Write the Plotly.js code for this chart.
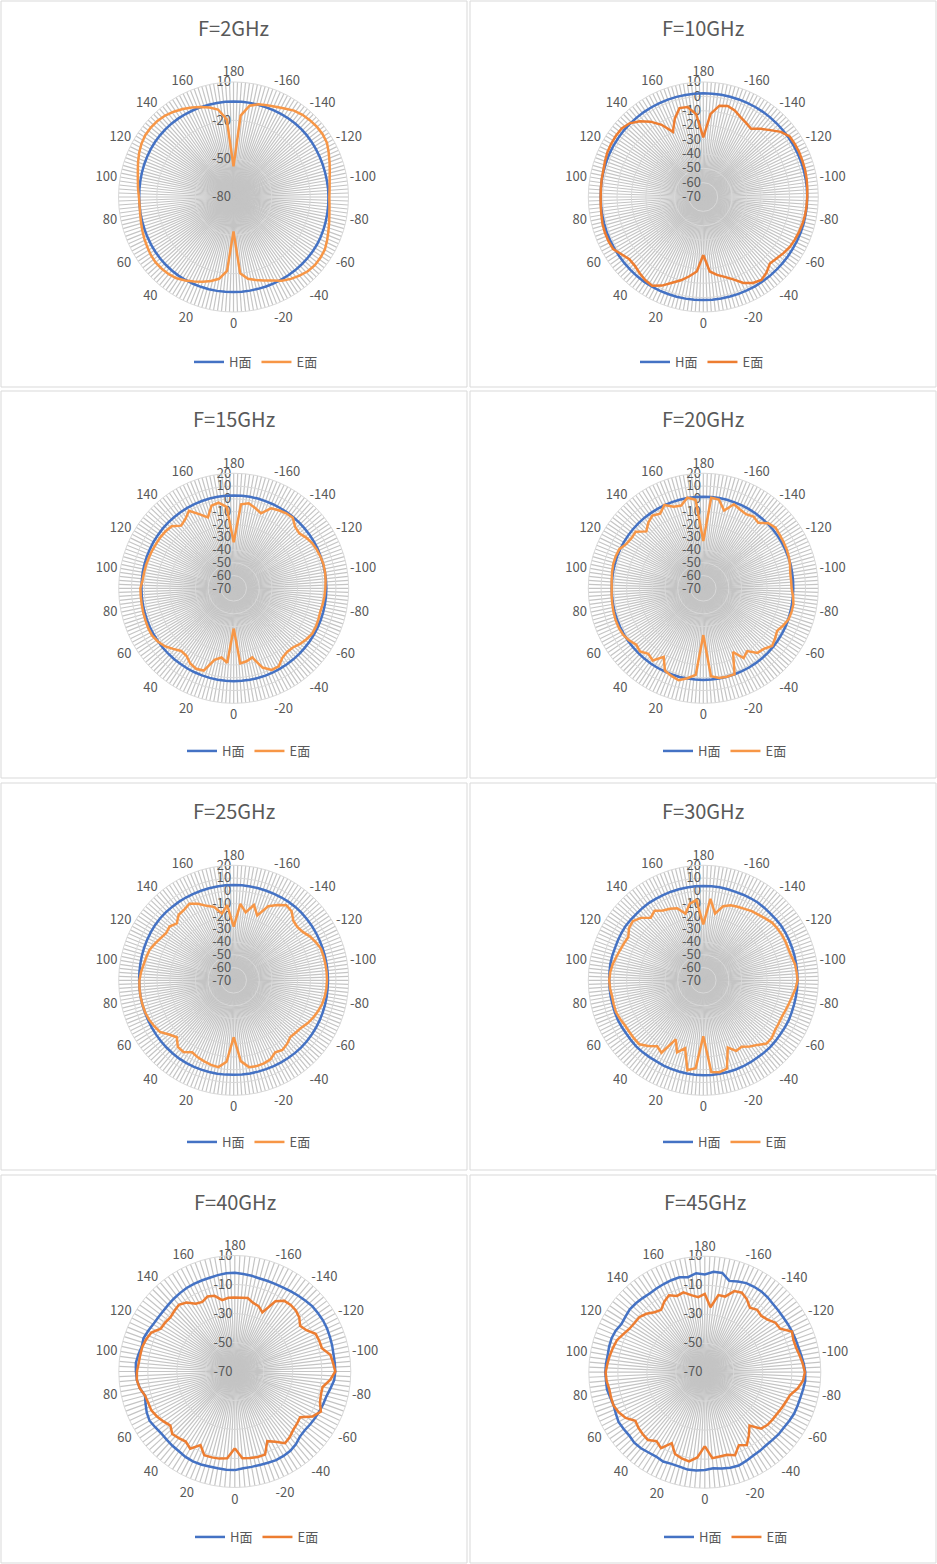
<!DOCTYPE html>
<html>
<head>
<meta charset="utf-8">
<script src="https://cdn.plot.ly/plotly-3.0.1.min.js"></script>
<style>
  body { margin: 0; background: #fff; }
  #chart { width: 937px; height: 1564px; }
</style>
</head>
<body>
<div id="chart"></div>
<script>
// measurement angles (deg): 0..180 down the left half, then -175..-5 back up the right
const angles = [0,5,10,15,20,25,30,35,40,45,50,55,60,65,70,75,80,85,90,95,100,105,110,115,120,125,130,135,140,145,150,155,160,165,170,175,180,
  -175,-170,-165,-160,-155,-150,-145,-140,-135,-130,-125,-120,-115,-110,-105,-100,-95,-90,-85,-80,-75,-70,-65,-60,-55,-50,-45,-40,-35,-30,-25,-20,-15,-10,-5];

const titles = ['F=2GHz','F=10GHz','F=15GHz','F=20GHz','F=25GHz','F=30GHz','F=40GHz','F=45GHz'];
const seriesNames = ['H面','E面'];

// category labels round the dial
const angleTickPos = [0,20,40,60,80,100,120,140,160,180,200,220,240,260,280,300,320,340];
const angleTickText = ['0','20','40','60','80','100','120','140','160','180','-160','-140','-120','-100','-80','-60','-40','-20'];

// radial tick labels per chart
const rTicks2 = [-80,-50,-20,10];
const rTicks10 = [-70,-60,-50,-40,-30,-20,-10,0,10];
const rTicksMid = [-70,-60,-50,-40,-30,-20,-10,0,10,20];
const rTicksHigh = [-70,-50,-30,-10,10];

// gain values (dB)
const h2 = [-5.6,-5.5,-5.4,-5.3,-5.2,-5.1,-5.0,-4.9,-4.9,-5.0,-5.1,-5.3,-5.5,-5.7,-5.9,-6.0,-6.1,-6.2,-6.2,-6.1,-6.0,-5.8,-5.6,-5.4,-5.2,-5.0,-4.9,-4.8,-4.8,-4.9,-5.0,-5.1,-5.2,-5.3,-5.3,-5.2,-5.2,
  -5.2,-5.2,-5.3,-5.3,-5.2,-5.1,-5.0,-4.9,-4.9,-5.0,-5.2,-5.4,-5.6,-5.7,-5.8,-5.8,-5.7,-5.7,-5.6,-5.5,-5.3,-5.1,-4.9,-4.8,-4.8,-4.9,-5.0,-5.1,-5.2,-5.3,-5.4,-5.5,-5.6,-5.6,-5.6];
const e2 = [-53,-22,-15,-12,-9.5,-7,-4.5,-2.3,-1.2,-0.6,-0.4,-1,-2,-3,-4,-5,-5.8,-6.2,-6,-5,-4,-2.5,-0.5,1.5,3.2,4.3,4.5,4.2,3.2,1.5,-0.5,-2.8,-5,-7.5,-10.5,-19,-56,
  -16,-7.5,-4.8,-3.5,-2,0,2.5,4,4.8,5.3,5.3,4.5,2.2,0,-2,-3.6,-4.5,-5,-4.6,-3.8,-2.5,-1,0.8,2.5,3,3.1,2.2,0.4,-1.8,-4.3,-7.8,-10.5,-12.8,-15,-20];

const h10 = [1.7,1.7,1.8,1.8,1.8,1.9,1.9,1.9,1.8,1.7,1.6,1.5,1.5,1.5,1.5,1.4,1.4,1.4,1.4,1.5,1.6,1.7,1.8,1.9,2.0,2.0,2.1,2.1,2.1,2.1,2.1,2.1,2.1,2.1,2.1,2.1,2.1,
  2.1,2.2,2.2,2.2,2.2,2.3,2.3,2.3,2.3,2.3,2.3,2.3,2.3,2.3,2.3,2.3,2.3,2.3,2.3,2.2,2.2,2.1,2.0,1.9,1.9,1.8,1.8,1.8,1.8,1.8,1.7,1.7,1.7,1.7,1.7];
const e10 = [-29.6,-18,-14,-10,-6.5,-2,1.2,0.5,-1,-2.5,-2.8,-0.5,2.4,2.8,2.8,2.6,2,1.6,1.4,1.5,1.8,2,2.8,3.6,4,4.2,4.1,2.5,-1.2,-6,-12,-20,-12,-6,-6.5,-12,-28.5,
  -12,-5.5,-4.5,-6,-8.7,-10.5,-12,-8,-4.2,0.5,3.4,3.6,3.6,3.4,3.3,3,2.6,2.3,2.1,1.9,1.5,0.9,0.3,-0.5,-1.9,-3.5,-4.5,-1.5,0.5,-1,-4,-9,-12.5,-15,-18];

const h15 = [2.7,2.7,2.6,2.6,2.5,2.5,2.5,2.4,2.4,2.4,2.4,2.3,2.3,2.3,2.2,2.2,2.2,2.2,2.2,2.2,2.3,2.3,2.4,2.4,2.5,2.5,2.6,2.6,2.6,2.6,2.7,2.7,2.7,2.7,2.7,2.7,2.7,
  2.7,2.7,2.7,2.6,2.6,2.6,2.6,2.6,2.6,2.6,2.6,2.6,2.6,2.5,2.5,2.5,2.5,2.5,2.5,2.5,2.5,2.5,2.5,2.5,2.5,2.5,2.6,2.6,2.6,2.6,2.7,2.7,2.7,2.7,2.7];
const e15 = [-38.6,-11.5,-15,-12,-1.5,-0.5,-2,-5.5,-6,-3,0.5,2.5,3.8,3.8,3.5,3.3,3.1,3,3,1.6,1.2,1,0.6,0.3,0,-0.1,-0.5,-1.4,-6,-4,0,-6,-11,-3,-2,-6,-33.9,
  -4,-2.4,-5,-7.5,-1,0.5,1.7,2,-2,-3,-0.8,0.9,1.7,2.3,2.7,2.6,2.2,1.7,1.3,0.8,0.2,0.6,1,1,-0.5,-2.2,-4.5,-5,-3.6,0.5,0.5,-4,-14,-12,-11];

const h20 = [1.7,1.7,1.7,1.8,1.8,1.8,1.8,1.8,1.8,1.8,1.8,1.8,1.8,1.8,1.8,1.8,1.7,1.7,1.7,1.7,1.8,1.8,1.9,1.9,1.9,1.9,1.9,1.9,1.9,1.8,1.8,1.8,1.8,1.7,1.7,1.7,1.7,
  1.7,1.7,1.7,1.6,1.6,1.5,1.5,1.4,1.4,1.3,1.2,1.1,1.0,0.9,0.8,0.6,0.5,0.4,0.4,0.5,0.6,0.8,1.0,1.1,1.2,1.3,1.4,1.5,1.5,1.6,1.6,1.6,1.7,1.7,1.7];
const e20 = [-33.5,-2,1.5,4.5,3,1,-8,-1,-3,0,-1.5,1,2.5,3,3,2.7,2.3,2,1.7,2,2.5,3,3,2.5,-0.5,-1.5,-1,-7,-3,-0.5,-2.5,2,-2,-3,2,-0.5,-33,
  1.2,0.5,-7,0,-2,-3,-1.5,-3,2,3.8,3,2.5,2,1.3,0.3,-0.9,-1,-0.9,0.5,1.6,1.5,1,-1,-3.3,-1.5,0.3,-3,-4,-10,-7,-15,1.5,1.6,1.2,-1];

const h25 = [4.0,4.1,4.2,4.3,4.4,4.5,4.6,4.6,4.5,4.4,4.3,4.1,4.0,3.9,3.9,4.0,4.0,4.0,4.0,4.1,4.2,4.4,4.6,4.8,5.0,5.2,5.3,5.2,5.0,4.9,4.8,4.7,4.6,4.6,4.6,4.6,4.6,
  4.6,4.6,4.6,4.6,4.7,4.8,4.9,5.0,4.9,4.7,4.5,4.3,4.1,4.0,3.9,3.8,3.8,3.8,3.8,3.9,4.0,4.1,4.2,4.3,4.4,4.5,4.5,4.4,4.3,4.2,4.1,4.0,4.0,4.0,4.0];
const e25 = [-25.5,-6,-1,-1.5,-2.5,-3.5,-5,-1.5,-2,-7,-4,0.5,1.8,3,3.7,3.9,4,4,3.8,2.8,1.5,0.8,0,-2,-4,-5.5,-4.5,-7,-3,-2.5,-0.8,-4,-8,-10.5,-17,-11,-28.1,
  -10,-16,-9,-16,-6,-2,1.8,0.5,-4,-5,-4,-1.2,0.8,2.6,2.8,2.9,3,3,2.8,2.4,1.7,0.3,-1.2,-3,-5.4,-6.5,-7.3,-5,-3.5,-5,-1.8,-0.8,-0.5,-1,-6.5];

const h30 = [4.3,4.2,4.0,3.9,3.8,3.6,3.3,3.4,3.6,3.8,3.5,3.3,3.5,3.7,3.6,3.5,3.6,3.6,3.6,3.7,3.9,3.8,3.6,3.8,4.0,4.2,4.0,3.8,3.9,4.0,3.8,3.7,3.8,3.8,3.7,3.8,3.8,
  3.8,3.9,3.8,3.7,3.9,4.1,4.3,4.2,4.0,4.2,4.4,4.3,4.1,4.0,3.9,3.8,3.8,3.8,3.7,3.6,3.5,3.6,3.8,3.7,3.6,3.8,4.0,3.9,3.8,4.0,4.2,4.3,4.3,4.3,4.3];
const e30 = [-26.2,-1,1.5,-15,-10,-19,-4.5,-7,-3,0.8,0.8,0.6,0.7,1.8,2.7,2.6,2.5,3.2,3.6,3.1,2,0.5,-0.7,-1.5,-2.2,1,2,-0.9,-6,-3.5,-7,-8.2,-10,-16,-9,-7,-26.2,
  -6,-17,-10,-7.5,-6.5,-5.5,-3.9,-3,-1.5,0.3,0.8,1.1,1.1,1,1.5,2.9,3.3,3.8,2.5,0.8,-0.5,-1.5,-2.2,-2,-1.6,0,0,-4,-6.7,-10,-9,-14,1.5,3,2];

const h40 = [-2,-2,-2.2,-2.2,-1.8,-1.6,-2,-2.8,-3.1,-3.5,-3.7,-3,-2.1,-3,-4.5,-5.9,-3.5,-2.2,-1.8,-1.5,-2.5,-3.6,-3,-4,-5,-5.3,-5.4,-5,-4.5,-4,-3.5,-3.3,-3.2,-3.1,-2.5,-2,-1.9,
  -2.5,-3,-3.6,-3.6,-3.5,-3.2,-2.5,-1.8,-1,-0.1,0.1,0.3,0.2,-0.2,-0.5,-0.9,-0.8,-0.7,-1.2,-3,-4.5,-5,-5.5,-6,-6.5,-7,-6.5,-4.5,-3.2,-2.8,-2.6,-3,-3.3,-3.2,-3];
const e40 = [-17,-10,-9,-8.7,-8.5,-14,-8.5,-11,-10,-9,-12,-10,-8,-6.5,-6.5,-5.9,-3.4,-2.2,-2.5,-3.5,-3.8,-4,-5,-6.5,-11,-11.3,-12,-11,-10,-12,-16,-17,-15,-16,-20,-19,-19,
  -19,-18.6,-21,-22,-25,-14,-10.5,-10,-10.5,-12,-15,-13,-8.5,-8,-7.8,-3.1,-2,-0.7,-4,-8.5,-8.5,-7.5,-4.5,-8,-15,-14,-13,-11,-9.6,-14,-17,-9,-9,-9.5,-10];

const h45 = [-2.6,-2,-1.8,-2.6,-2.7,-2,-2.8,-2.4,-1.5,-1.2,-2,-1.7,-1.3,-2.3,-3.1,-2.5,-1.5,-1.6,-1.4,-1.6,-2,-1.7,-1.6,-2.2,-3.6,-3.2,-2.5,-2.8,-3.3,-3.7,-3.3,-2.9,-2.5,-2.2,-3.5,-1.5,-2.6,
  -0.5,-0.5,-4.8,-3.5,-2.2,-2,-2,-2.6,-3.5,-3.8,-4,-3.8,-3.6,-3.4,-3.2,-2.5,-1.5,-0.7,-0.5,-1.2,-1.8,-2,-2.1,-2.8,-3.4,-3.5,-4,-4.2,-3.8,-3.5,-2.5,-1.5,-1.8,-2.5,-3.5];
const e45 = [-19,-11,-7.5,-8.5,-10,-16,-9.6,-12,-9,-9.5,-10.3,-11.5,-7,-4.5,-3,-3,-3.1,-2,-1.6,-2.6,-3.5,-4.5,-5.5,-8,-10,-10.8,-11,-13,-16,-17.5,-14,-11.5,-14,-13,-16,-18,-16,
  -25,-16,-16,-10.5,-9.5,-12,-15.7,-13.8,-15,-13.5,-10.5,-10,-3.7,-5,-4.8,-3.6,-2.2,-1,-2,-5,-9.1,-10.5,-11.5,-12.5,-13,-13.5,-15,-22,-17,-12,-14.5,-9,-11,-11,-10.5];

const W = 937, H = 1564;
const FONT = "'Noto Sans CJK SC', 'Noto Sans', sans-serif";
const TXT = '#595959';
const GRID = '#c4c4c4';
const RING = '#d9d9d9';

const panels = [
  { h: h2,  e: e2,  range: [-80, 10], ticks: rTicks2,   spoke: 2,   cx: 233.5, cy: 197,    r: 115, col: 0, row: 0, lx: 256, eCol: '#F79646' },
  { h: h10, e: e10, range: [-70, 10], ticks: rTicks10,  spoke: 2,   cx: 703.3, cy: 197,    r: 115, col: 1, row: 0, lx: 702, eCol: '#ED7D31' },
  { h: h15, e: e15, range: [-70, 20], ticks: rTicksMid, spoke: 2,   cx: 233.7, cy: 588.3,  r: 115, col: 0, row: 1, lx: 249, eCol: '#F79646' },
  { h: h20, e: e20, range: [-70, 20], ticks: rTicksMid, spoke: 2,   cx: 703.3, cy: 588.3,  r: 115, col: 1, row: 1, lx: 725, eCol: '#F79646' },
  { h: h25, e: e25, range: [-70, 20], ticks: rTicksMid, spoke: 2,   cx: 233.7, cy: 980.3,  r: 115, col: 0, row: 2, lx: 249, eCol: '#F79646' },
  { h: h30, e: e30, range: [-70, 20], ticks: rTicksMid, spoke: 2,   cx: 703.3, cy: 980.3,  r: 115, col: 1, row: 2, lx: 725, eCol: '#F79646' },
  { h: h40, e: e40, range: [-70, 10], ticks: rTicksHigh, spoke: 2.5, cx: 234.8, cy: 1371.5, r: 116, col: 0, row: 3, lx: 257, eCol: '#ED7D31' },
  { h: h45, e: e45, range: [-70, 10], ticks: rTicksHigh, spoke: 2.5, cx: 704.8, cy: 1372.2, r: 116, col: 1, row: 3, lx: 726, eCol: '#ED7D31' }
];
const colX = [[1, 467], [470, 936]];
const rowY = [[1, 387], [391, 778], [783, 1170], [1175, 1563]];
const titleY = [28, 418, 810, 1201];
const legendY = [362, 751, 1142, 1537];

const closed = a => a.concat([a[0]]);
const thetaClosed = closed(angles);

const data = [];
const layout = {
  width: W, height: H,
  margin: { l: 0, r: 0, t: 0, b: 0 },
  paper_bgcolor: '#fff',
  font: { family: FONT, color: TXT, size: 13 },
  showlegend: true,
  annotations: [],
  shapes: []
};

panels.forEach((p, i) => {
  const n = i + 1;
  const polarKey = n === 1 ? 'polar' : 'polar' + n;
  const legendKey = n === 1 ? 'legend' : 'legend' + n;

  // spokes every p.spoke degrees; only multiples of 20 carry a label
  const tv = [], tt = [];
  for (let a = 0; a < 360 - 1e-9; a += p.spoke) {
    tv.push(a);
    const k = angleTickPos.indexOf(a);
    tt.push(k >= 0 ? angleTickText[k] : '');
  }

  layout[polarKey] = {
    domain: {
      x: [(p.cx - p.r) / W, (p.cx + p.r) / W],
      y: [1 - (p.cy + p.r) / H, 1 - (p.cy - p.r) / H]
    },
    bgcolor: '#fff',
    angularaxis: {
      rotation: 270,
      direction: 'clockwise',
      tickmode: 'array',
      tickvals: tv,
      ticktext: tt,
      ticks: '',
      showgrid: true,
      gridcolor: GRID,
      gridwidth: 1.2,
      showline: true,
      linecolor: RING,
      linewidth: 1,
      tickfont: { size: 13, color: TXT, family: FONT }
    },
    radialaxis: {
      range: p.range,
      tickmode: 'array',
      tickvals: p.ticks,
      ticktext: p.ticks.map(String),
      angle: 90,
      tickangle: 90,
      side: 'counterclockwise',
      showline: false,
      ticks: '',
      gridcolor: RING,
      gridwidth: 1,
      tickfont: { size: 13, color: TXT, family: FONT },
      layer: 'below traces'
    }
  };

  layout[legendKey] = {
    orientation: 'h',
    x: p.lx / W, y: 1 - legendY[p.row] / H,
    xanchor: 'center', yanchor: 'middle',
    bgcolor: 'rgba(0,0,0,0)',
    font: { size: 13, color: TXT, family: FONT },
    itemwidth: 30,
    tracegroupgap: 0
  };

  data.push({
    type: 'scatterpolar', mode: 'lines',
    subplot: polarKey, legend: legendKey,
    name: seriesNames[0],
    theta: thetaClosed, r: closed(p.h),
    line: { color: '#4472C4', width: 2.5 },
    hoverinfo: 'skip'
  });
  data.push({
    type: 'scatterpolar', mode: 'lines',
    subplot: polarKey, legend: legendKey,
    name: seriesNames[1],
    theta: thetaClosed, r: closed(p.e),
    line: { color: p.eCol, width: 2.5 },
    hoverinfo: 'skip'
  });

  const [x0, x1] = colX[p.col];
  const [y0, y1] = rowY[p.row];
  layout.shapes.push({
    type: 'rect', xref: 'paper', yref: 'paper',
    x0: x0 / W, x1: x1 / W, y0: 1 - y1 / H, y1: 1 - y0 / H,
    line: { color: RING, width: 1 }, fillcolor: 'rgba(0,0,0,0)', layer: 'below'
  });
  layout.annotations.push({
    xref: 'paper', yref: 'paper',
    x: p.cx / W, y: 1 - titleY[p.row] / H,
    xanchor: 'center', yanchor: 'middle',
    text: titles[i], showarrow: false,
    font: { size: 20, color: TXT, family: FONT }
  });
});

Plotly.newPlot('chart', data, layout, { staticPlot: true, displayModeBar: false });
</script>
</body>
</html>
